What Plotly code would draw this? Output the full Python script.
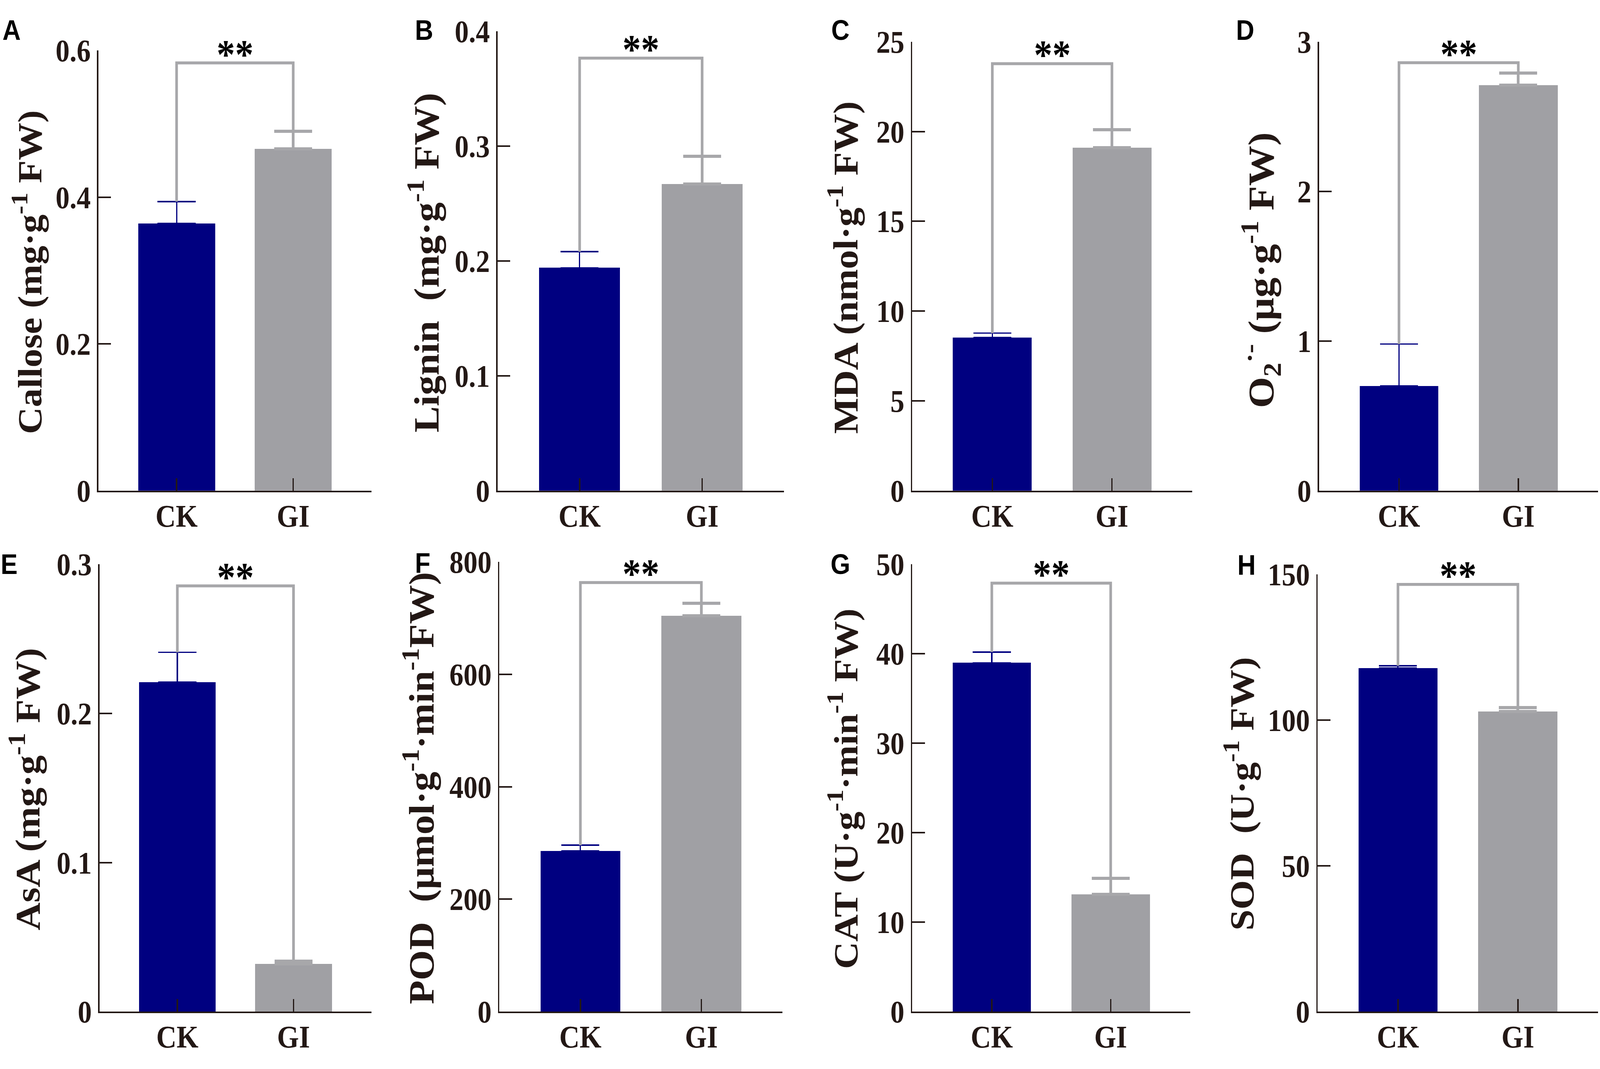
import plotly.graph_objects as go

# ---------------- data ----------------
categories = ["CK", "GI"]
panel_letters = ["A", "B", "C", "D", "E", "F", "G", "H"]
y_titles = [
    "Callose (mg·g<sup>-1</sup> FW)",
    "Lignin\u00a0 (mg·g<sup>-1</sup> FW)",
    "MDA (nmol·g<sup>-1</sup> FW)",
    "O<sub>2</sub><sup>·-</sup> (μg·g<sup>-1</sup> FW)",
    "AsA (mg·g<sup>-1</sup> FW)",
    "POD\u00a0 (μmol·g<sup>-1</sup>·min<sup>-1</sup>FW)",
    "CAT (U·g<sup>-1</sup>·min<sup>-1</sup> FW)",
    "SOD\u00a0 (U·g<sup>-1</sup> FW)",
]
ck_mean = [0.364, 0.194, 8.52, 0.70, 0.221, 286, 39.0, 117.8]
ck_err = [0.030, 0.014, 0.25, 0.28, 0.020, 10, 1.2, 0.8]
gi_mean = [0.466, 0.267, 19.11, 2.71, 0.032, 704, 13.1, 102.9]
gi_err = [0.024, 0.024, 1.00, 0.08, 0.002, 22, 1.8, 1.4]
bracket_level = [0.583, 0.3765, 23.78, 2.86, 0.2856, 763, 47.9, 146.5]
signif = ["**"] * 8
y_max = [0.6, 0.4, 25, 3, 0.3, 800, 50, 150]
y_dtick = [0.2, 0.1, 5, 1, 0.1, 200, 10, 50]

# ---------------- layout (pixels of the 4550 x 2736 page) ----------------
W, H = 4550, 2736
ax_x0 = [280, 1415, 2594, 3751, 283, 1420, 2594, 3747]
ax_x1 = [1056, 2230, 3390, 4545, 1056, 2225, 3385, 4545]
ax_top = [89, 38, 66, 66, 1448, 1441, 1448, 1474]
ax_bot = [1253, 1253, 1253, 1253, 2631, 2631, 2631, 2631]
title_cx = [78, 1205, 2398, 3586, 72, 1192, 2398, 3525]
title_cy = [676, 650, 663, 670, 2043, 2040, 2041, 2055]
title_size = [96, 101, 98, 103, 99, 100, 97, 97]
letter_cx = [33, 1206, 2390, 3541, 26, 1202, 2390, 3545]
letter_cy = [35, 35, 35, 35, 1448, 1444, 1448, 1450]

CK_COLOR = "#000080"
GI_COLOR = "#A0A0A4"
BRACKET_COLOR = "#A7A7AA"
TXT = "#231815"
AXIS = "#231815"
SERIF = "Liberation Serif"
SANS = "Liberation Sans"

fig = go.Figure()
annotations = []
layout_axes = {}

for i in range(8):
    sfx = "" if i == 0 else str(i + 1)
    xr, yr = "x" + sfx, "y" + sfx
    fig.add_trace(go.Bar(
        x=[categories[0]], y=[ck_mean[i]], width=0.66,
        marker=dict(color=CK_COLOR, line=dict(width=0)),
        error_y=dict(type="data", array=[ck_err[i]], arrayminus=[0], symmetric=False,
                     color=CK_COLOR, thickness=3.5, width=54),
        xaxis=xr, yaxis=yr, showlegend=False, hoverinfo="skip"))
    fig.add_trace(go.Bar(
        x=[categories[1]], y=[gi_mean[i]], width=0.66,
        marker=dict(color=GI_COLOR, line=dict(width=0)),
        error_y=dict(type="data", array=[gi_err[i]], arrayminus=[0], symmetric=False,
                     color=BRACKET_COLOR, thickness=8, width=54),
        xaxis=xr, yaxis=yr, showlegend=False, hoverinfo="skip"))
    fig.add_trace(go.Scatter(
        x=[categories[0], categories[0], categories[1], categories[1]],
        y=[ck_mean[i] + ck_err[i], bracket_level[i], bracket_level[i], gi_mean[i] + gi_err[i]],
        mode="lines", line=dict(color=BRACKET_COLOR, width=7.5),
        xaxis=xr, yaxis=yr, showlegend=False, hoverinfo="skip"))

    layout_axes["xaxis" + sfx] = dict(
        domain=[ax_x0[i] / W, ax_x1[i] / W], anchor=yr, type="category",
        categoryorder="array", categoryarray=categories, range=[-0.67, 1.67],
        showline=True, linecolor=AXIS, linewidth=4, ticks="inside", ticklen=32,
        tickwidth=4, tickcolor=AXIS, showgrid=False, zeroline=False,
        tickfont=dict(family=SERIF, size=80, color=TXT, weight="bold"),
        ticklabelstandoff=-8)
    layout_axes["yaxis" + sfx] = dict(
        domain=[1 - ax_bot[i] / H, 1 - ax_top[i] / H], anchor=xr,
        range=[0, y_max[i]], tickmode="linear", tick0=0, dtick=y_dtick[i],
        showline=True, linecolor=AXIS, linewidth=4, ticks="inside", ticklen=36,
        tickwidth=4, tickcolor=AXIS, showgrid=False, zeroline=False,
        tickfont=dict(family=SERIF, size=80, color=TXT, weight="bold"),
        ticklabelstandoff=2)

    annotations.append(dict(
        x=0.5, y=bracket_level[i], xref=xr, yref=yr, text=signif[i], showarrow=False,
        xanchor="center", yanchor="middle", yshift=22,
        font=dict(family=SERIF, size=105, color="#000000", weight="bold")))
    annotations.append(dict(
        x=title_cx[i] / W, y=1 - title_cy[i] / H, xref="paper", yref="paper",
        text=y_titles[i], textangle=-90, showarrow=False,
        xanchor="center", yanchor="middle",
        font=dict(family=SERIF, size=title_size[i], color=TXT, weight="bold")))
    annotations.append(dict(
        x=letter_cx[i] / W, y=1 - letter_cy[i] / H, xref="paper", yref="paper",
        text=panel_letters[i], showarrow=False, xanchor="center", yanchor="middle",
        font=dict(family=SANS, size=72, color="#000000", weight="bold")))

fig.update_layout(
    width=W, height=H, margin=dict(l=0, r=0, t=0, b=0),
    paper_bgcolor="white", plot_bgcolor="white",
    annotations=annotations, bargap=0, **layout_axes)

# fit the fixed 4550x2736 drawing into whatever viewport the page is shown in
fit_script = """
var gd = document.getElementById('{plot_id}');
document.documentElement.style.margin = '0';
document.body.style.margin = '0';
document.documentElement.style.overflow = 'hidden';
document.body.style.overflow = 'hidden';
var sx = window.innerWidth / %d, sy = window.innerHeight / %d;
gd.style.transformOrigin = '0 0';
gd.style.transform = 'scale(' + sx + ',' + sy + ')';
""" % (W, H)

fig.write_html("out.html", post_script=fit_script,
               config={"displayModeBar": False, "staticPlot": True})
